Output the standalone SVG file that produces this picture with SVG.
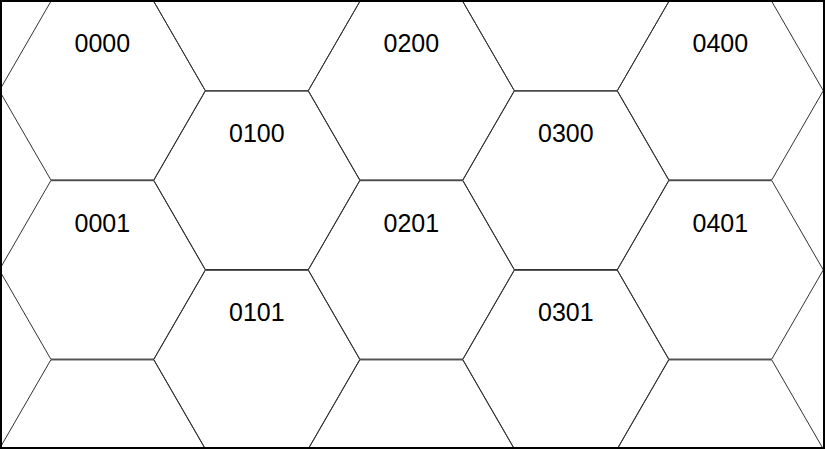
<svg xmlns="http://www.w3.org/2000/svg" xmlns:xlink="http://www.w3.org/1999/xlink" width="825" height="449" viewBox="0 0 825 449">
  <style>
    .hex { fill: none; stroke: #333333; stroke-width: 1; }
    .lbl { font-family: "Liberation Sans", Arial, sans-serif; font-size: 25px; fill: #000000; text-anchor: middle; }
    .frame { fill: none; stroke: #000000; stroke-width: 2; }
  </style>
  <defs>
    <polygon id="hexShape" points="-103,0 -51.5,-89.2 51.5,-89.2 103,0 51.5,89.2 -51.5,89.2"/>
    <clipPath id="clip">
      <rect x="1" y="1" width="823" height="447"/>
    </clipPath>
  </defs>
  <rect x="0" y="0" width="825" height="449" fill="#ffffff"/>
  <g clip-path="url(#clip)">
    <g id="hex-0000"><use xlink:href="#hexShape" class="hex" transform="translate(102.3,90.7)"/><text class="lbl" x="102.3" y="52.3">0000</text></g>
    <g id="hex-0001"><use xlink:href="#hexShape" class="hex" transform="translate(102.3,269.9)"/><text class="lbl" x="102.3" y="231.5">0001</text></g>
    <g id="hex-0002"><use xlink:href="#hexShape" class="hex" transform="translate(102.3,449.1)"/></g>
    <g id="hex-01top"><use xlink:href="#hexShape" class="hex" transform="translate(256.8,1.5)"/></g>
    <g id="hex-0100"><use xlink:href="#hexShape" class="hex" transform="translate(256.8,180.3)"/><text class="lbl" x="256.8" y="141.7">0100</text></g>
    <g id="hex-0101"><use xlink:href="#hexShape" class="hex" transform="translate(256.8,359.5)"/><text class="lbl" x="256.8" y="320.9">0101</text></g>
    <g id="hex-0200"><use xlink:href="#hexShape" class="hex" transform="translate(411.3,90.7)"/><text class="lbl" x="411.3" y="52.3">0200</text></g>
    <g id="hex-0201"><use xlink:href="#hexShape" class="hex" transform="translate(411.3,269.9)"/><text class="lbl" x="411.3" y="231.5">0201</text></g>
    <g id="hex-0202"><use xlink:href="#hexShape" class="hex" transform="translate(411.3,449.1)"/></g>
    <g id="hex-03top"><use xlink:href="#hexShape" class="hex" transform="translate(565.8,1.5)"/></g>
    <g id="hex-0300"><use xlink:href="#hexShape" class="hex" transform="translate(565.8,180.3)"/><text class="lbl" x="565.8" y="141.7">0300</text></g>
    <g id="hex-0301"><use xlink:href="#hexShape" class="hex" transform="translate(565.8,359.5)"/><text class="lbl" x="565.8" y="320.9">0301</text></g>
    <g id="hex-0400"><use xlink:href="#hexShape" class="hex" transform="translate(720.3,90.7)"/><text class="lbl" x="720.3" y="52.3">0400</text></g>
    <g id="hex-0401"><use xlink:href="#hexShape" class="hex" transform="translate(720.3,269.9)"/><text class="lbl" x="720.3" y="231.5">0401</text></g>
    <g id="hex-0402"><use xlink:href="#hexShape" class="hex" transform="translate(720.3,449.1)"/></g>
  </g>
  <g id="connectors"></g>
  <rect class="frame" x="1" y="1" width="823" height="447"/>
</svg>
